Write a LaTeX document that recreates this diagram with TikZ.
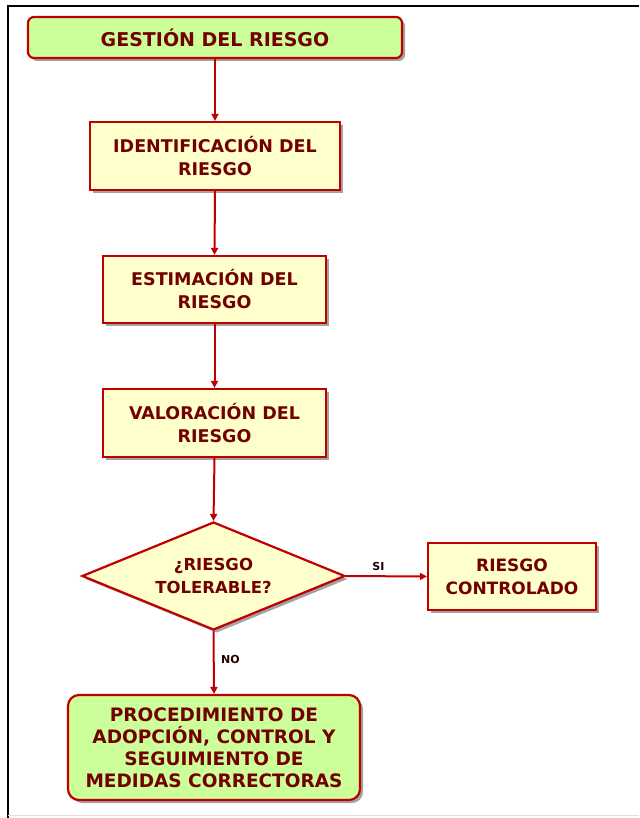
\documentclass[tikz,border=0pt]{standalone}
\usepackage{fontspec}
\setmainfont{DejaVu Sans}
\usetikzlibrary{shapes.geometric,arrows.meta,shadows}
\definecolor{bord}{RGB}{192,0,0}
\definecolor{txt}{RGB}{115,0,0}
\definecolor{yel}{RGB}{255,255,204}
\definecolor{grn}{RGB}{204,255,153}
\tikzset{
  shad/.style={drop shadow={shadow xshift=3pt,shadow yshift=-3pt,fill=black!45,opacity=0.8}},
  base/.style={draw=bord,line width=2.2pt,text=txt,align=center,font=\bfseries\fontsize{17.5}{23}\selectfont,inner sep=2pt,shad},
  greenbox/.style={base,fill=grn,rounded corners=6pt},
  yelbox/.style={base,fill=yel},
  decis/.style={base,fill=yel,diamond,aspect=2.44,inner sep=0pt},
  conn/.style={draw=bord,line width=2pt,-{Triangle[length=7pt,width=7pt]}},
  lab/.style={text=black!70!txt,font=\bfseries\fontsize{11}{12}\selectfont}
}
\begin{document}
\begin{tikzpicture}[x=1pt,y=-1pt]
\useasboundingbox (0,0) rectangle (639,818);
\draw[line width=2pt] (8,818) -- (8,6) -- (639,6);
\draw[black!12,line width=0.8pt] (8,815.5) -- (639,815.5);
\node[greenbox,minimum width=374pt,minimum height=41pt,font=\bfseries\fontsize{19}{23}\selectfont] (top) at (215,37.5) {GESTIÓN DEL RIESGO};
\node[yelbox,minimum width=250pt,minimum height=68pt] (ident) at (215,156) {IDENTIFICACIÓN DEL\\RIESGO};
\node[yelbox,minimum width=223pt,minimum height=67pt] (est) at (214.5,289.5) {ESTIMACIÓN DEL\\RIESGO};
\node[yelbox,minimum width=223pt,minimum height=68pt] (val) at (214.5,423) {VALORACIÓN DEL\\RIESGO};
\node[decis,minimum width=263pt,minimum height=108pt,font=\bfseries\fontsize{16.5}{23}\selectfont] (dec) at (213.5,576) {¿RIESGO\\TOLERABLE?};
\node[yelbox,minimum width=168pt,minimum height=67pt,font=\bfseries\fontsize{17}{23}\selectfont] (ctrl) at (512,576.5) {RIESGO\\CONTROLADO};
\node[greenbox,rounded corners=11pt,minimum width=292pt,minimum height=105pt,font=\bfseries\fontsize{18.5}{22}\selectfont] (proc) at (214,747.5) {PROCEDIMIENTO DE\\ADOPCIÓN, CONTROL Y\\SEGUIMIENTO DE\\MEDIDAS CORRECTORAS};
\draw[conn] (top.south -| ident.north) -- (ident.north);
\draw[conn] (ident.south) -- (est.north);
\draw[conn] (est.south) -- (val.north);
\draw[conn] (val.south) -- (dec.north);
\draw[conn] (dec.east) -- node[lab,above=1pt,pos=0.4] (si) {SI} (ctrl.west);
\draw[conn] (dec.south) -- node[lab,right=3pt,pos=0.45] (no) {NO} (proc.north);
\end{tikzpicture}
\end{document}
